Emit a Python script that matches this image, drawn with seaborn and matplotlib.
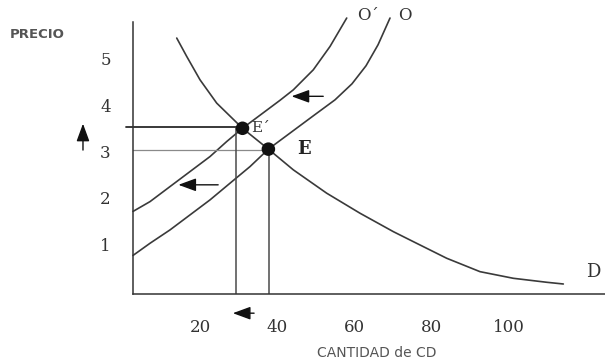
import matplotlib
matplotlib.use("Agg")
import matplotlib.pyplot as plt
import pandas as pd
import seaborn as sns
from matplotlib.patches import ArrowStyle

# Demand curve D
demand_q = [13.97, 16.56, 20.0, 24.32, 31.0, 37.7, 44.16, 52.8, 61.42, 70.04, 75.22, 83.87, 92.49, 101.11, 109.76, 114.06]
demand_p = [5.447, 5.05, 4.546, 4.043, 3.5, 3.05, 2.603, 2.099, 1.667, 1.27, 1.054, 0.695, 0.406, 0.263, 0.177, 0.14]

# Original supply curve O
supply_q = [2.65, 7.06, 12.23, 17.41, 22.59, 27.77, 32.95, 37.7, 49.33, 54.95, 59.35, 62.98, 66.09, 69.19]
supply_p = [0.756, 1.019, 1.307, 1.631, 1.955, 2.315, 2.674, 3.05, 3.769, 4.114, 4.46, 4.849, 5.302, 5.879]

# Shifted supply curve O'
supply2_q = [2.65, 7.06, 12.23, 17.41, 22.59, 26.91, 31.0, 40.71, 44.16, 49.33, 53.66, 57.98]
supply2_p = [1.706, 1.918, 2.242, 2.566, 2.89, 3.214, 3.5, 4.104, 4.33, 4.762, 5.266, 5.879]

# Equilibria E' and E
eq_names = ["E´", "E"]
eq_q = [31.0, 37.7]
eq_p = [3.5, 3.05]
drop_q = [29.3, 37.9]

x_ticks = [20, 40, 60, 80, 100]
y_ticks = [1, 2, 3, 4, 5]

line_col = "#3a3a3a"

sns.set_theme(style="white")
plt.rcParams["font.family"] = ["DejaVu Serif"]

fig = plt.figure(figsize=(6.05, 3.61), dpi=100)
ax = fig.add_axes([133 / 605, 1 - 294 / 361, 472 / 605, (294 - 21.7) / 361])

curves = pd.concat([
    pd.DataFrame({"q": demand_q, "p": demand_p, "curva": "D"}),
    pd.DataFrame({"q": supply_q, "p": supply_p, "curva": "O"}),
    pd.DataFrame({"q": supply2_q, "p": supply2_p, "curva": "O´"}),
])
for name, grp in curves.groupby("curva"):
    sns.lineplot(data=grp, x="q", y="p", sort=False, estimator=None,
                 color=line_col, lw=1.2, ax=ax, clip_on=False)

# guide lines from the equilibria to the axes
ax.plot([0.8, eq_q[0]], [3.52, 3.52], color="#2a2a2a", lw=1.3, clip_on=False)
ax.plot([2.65, eq_q[1]], [3.035, 3.035], color="#8a8a8a", lw=0.9, clip_on=False)
for dq, ep in zip(drop_q, eq_p):
    ax.plot([dq, dq], [ep, -0.076], color="#4a4a4a", lw=1.1)

sns.scatterplot(x=eq_q, y=eq_p, s=95, color="#111111", edgecolor="none",
                ax=ax, zorder=5, clip_on=False)

ax.text(eq_q[0] + 2.2, eq_p[0], eq_names[0], fontsize=11, va="center",
        ha="left", color="#333333")
ax.text(eq_q[1] + 7.4, eq_p[1], eq_names[1], fontsize=13, fontweight="bold",
        va="center", ha="left", color="#222222")
ax.text(121.9, 0.40, "D", fontsize=13, va="center", ha="center", color="#333333")
ax.text(60.7, 5.93, "O´", fontsize=12, va="center", ha="left", color="#333333")
ax.text(71.3, 5.93, "O", fontsize=12, va="center", ha="left", color="#333333")

# shift arrows
head = ArrowStyle("-|>", head_length=0.6, head_width=0.22)
arrow_kw = dict(arrowstyle=head, mutation_scale=18, color="#111111", lw=1.0,
                shrinkA=0, shrinkB=0)
ax.annotate("", xy=(43.7, 4.19), xytext=(51.9, 4.19), arrowprops=arrow_kw)
ax.annotate("", xy=(14.4, 2.28), xytext=(24.7, 2.28), arrowprops=arrow_kw)
ax.annotate("", xy=(28.5, -0.49), xytext=(34.0, -0.49), arrowprops=arrow_kw,
            annotation_clip=False)
ax.annotate("", xy=(-10.3, 3.60), xytext=(-10.3, 3.03), arrowprops=arrow_kw,
            annotation_clip=False)

ax.set_xlim(2.65, 124.85)
ax.set_ylim(-0.076, 5.8)
ax.set_xticks(x_ticks)
ax.set_yticks(y_ticks)
ax.tick_params(axis="both", length=0, labelsize=12, colors="#333333")
ax.tick_params(axis="x", pad=18)
ax.tick_params(axis="y", pad=16)
ax.set_xlabel("")
ax.set_ylabel("")
sns.despine(ax=ax)
for side in ("left", "bottom"):
    ax.spines[side].set_color("#333333")
    ax.spines[side].set_linewidth(1.1)

fig.text(10 / 605, 1 - 35 / 361, "PRECIO", family="DejaVu Sans", fontsize=9.5,
         fontweight="bold", color="#555555", va="center", ha="left")
fig.text(377 / 605, 1 - 353 / 361, "CANTIDAD de CD", family="DejaVu Sans",
         fontsize=10, color="#555555", va="center", ha="center")

fig.savefig("out.png", dpi=100)
